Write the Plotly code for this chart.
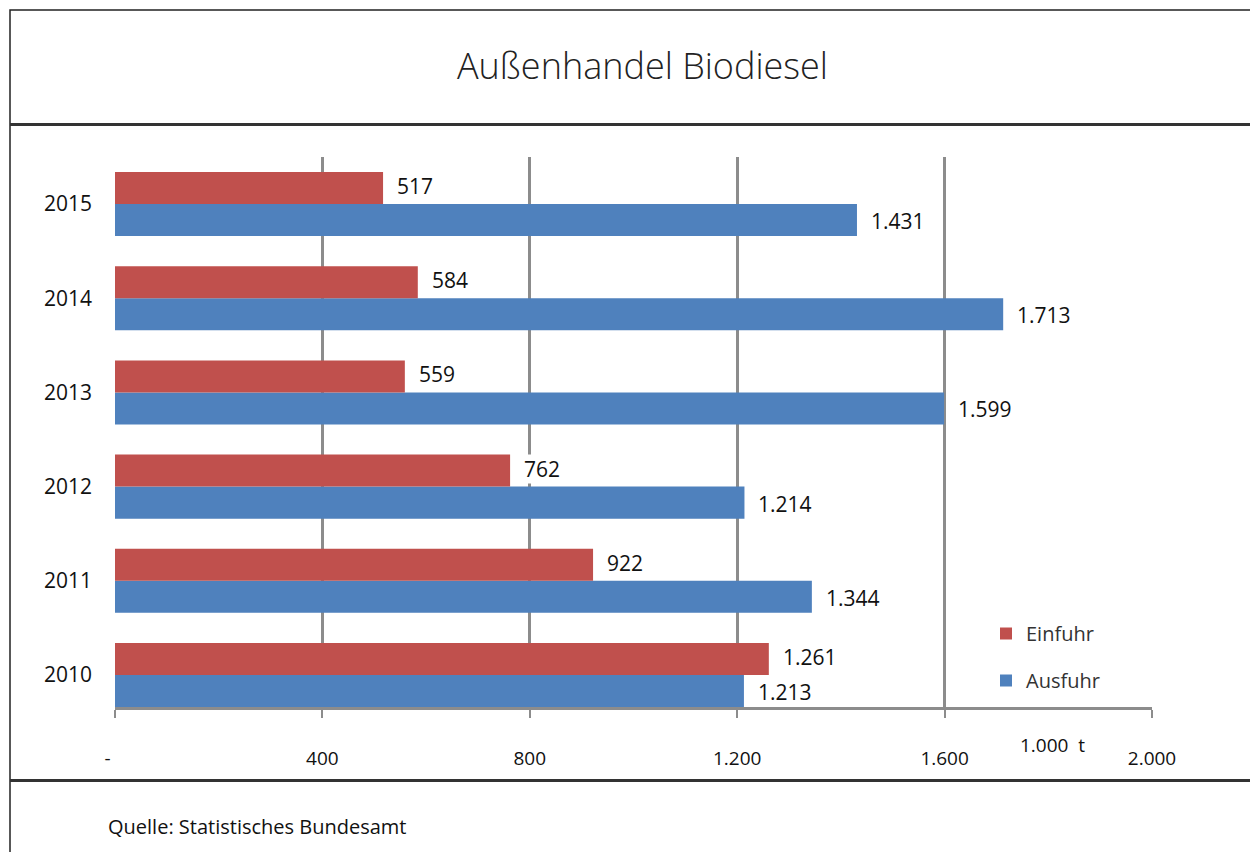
import plotly.graph_objects as go

years = ["2010", "2011", "2012", "2013", "2014", "2015"]
einfuhr = [1261, 922, 762, 559, 584, 517]
ausfuhr = [1213, 1344, 1214, 1599, 1713, 1431]
x_tickvals = [0, 400, 800, 1200, 1600, 2000]
x_ticktext = ["-   ", "400", "800", "1.200", "1.600", "2.000"]

RED = "#C0504D"
BLUE = "#4F81BD"
GRID = "#8C8C8C"
FONT = "Open Sans"

OFF = 8  # browser body margin
W, H = 1258 - OFF, 852 - OFF
L, R, T, B = 115 - OFF, 1152 - OFF, 157 - OFF, 707 - OFF


def de(v):
    return f"{v:,}".replace(",", ".")


fig = go.Figure()
fig.add_trace(go.Bar(name="Ausfuhr", y=years, x=ausfuhr, orientation="h", legendgroup="a",
                     legendrank=2, marker=dict(color=BLUE, line=dict(width=0))))
fig.add_trace(go.Bar(name="Einfuhr", y=years, x=einfuhr, orientation="h", legendgroup="e",
                     legendrank=1, marker=dict(color=RED, line=dict(width=0))))

annotations = []
for i, yr in enumerate(years):
    annotations.append(dict(x=einfuhr[i], y=i, xref="x", yref="y", yshift=18,
                            text=de(einfuhr[i]), showarrow=False, xanchor="left",
                            yanchor="middle", xshift=13, bgcolor="white", borderpad=0,
                            font=dict(family=FONT, size=21, color="#111")))
    annotations.append(dict(x=ausfuhr[i], y=i, xref="x", yref="y", yshift=-17,
                            text=de(ausfuhr[i]), showarrow=False, xanchor="left",
                            yanchor="middle", xshift=13, bgcolor="white", borderpad=0,
                            font=dict(family=FONT, size=21, color="#111")))


def px_x(p):
    return (p - OFF - L) / (R - L)


def px_y(p):
    return (B - (p - OFF)) / (B - T)


annotations.append(dict(text="Außenhandel Biodiesel", x=px_x(642), y=px_y(66),
                        xref="paper", yref="paper", showarrow=False,
                        xanchor="center", yanchor="middle",
                        font=dict(family=FONT, size=36, color="#222", weight=300)))
annotations.append(dict(text="1.000  t", x=px_x(1052), y=px_y(745),
                        xref="paper", yref="paper", showarrow=False,
                        xanchor="center", yanchor="middle",
                        font=dict(family=FONT, size=19, color="#111")))
annotations.append(dict(text="Quelle: Statistisches Bundesamt", x=px_x(106), y=px_y(826),
                        xref="paper", yref="paper", showarrow=False,
                        xanchor="left", yanchor="middle",
                        font=dict(family=FONT, size=20, color="#111")))

shapes = [
    dict(type="rect", xref="paper", yref="paper", x0=px_x(10), x1=px_x(1255),
         y0=px_y(870), y1=px_y(10), line=dict(color="#222", width=1.5)),
    dict(type="line", xref="paper", yref="paper", x0=px_x(10), x1=px_x(1255),
         y0=px_y(124.5), y1=px_y(124.5), line=dict(color="#333", width=3)),
    dict(type="line", xref="paper", yref="paper", x0=px_x(10), x1=px_x(1255),
         y0=px_y(780.5), y1=px_y(780.5), line=dict(color="#333", width=3)),
]

fig.update_layout(
    width=W, height=H,
    margin=dict(l=L, r=W - R, t=T, b=H - B, pad=0),
    paper_bgcolor="white", plot_bgcolor="white",
    barmode="group", bargap=0.32, bargroupgap=0,
    font=dict(family=FONT, size=20, color="#111"),
    showlegend=True,
    legend=dict(x=px_x(986), y=px_y(614), xanchor="left", yanchor="top",
                traceorder="grouped", font=dict(family=FONT, size=20, color="#333"),
                itemwidth=30, tracegroupgap=18, bgcolor="rgba(0,0,0,0)"),
    annotations=annotations,
    shapes=shapes,
    xaxis=dict(range=[0, 2000], tickvals=x_tickvals, ticktext=x_ticktext,
               showgrid=True, gridcolor=GRID, gridwidth=3, zeroline=False,
               showline=True, linecolor=GRID, linewidth=3,
               ticks="outside", ticklen=8, tickwidth=2, tickcolor=GRID,
               ticklabelstandoff=24, tickfont=dict(family=FONT, size=19, color="#111")),
    yaxis=dict(type="category", categoryorder="array", categoryarray=years,
               range=[-0.34, 5.5], showgrid=False, zeroline=False, showline=False,
               ticks="", ticklabelstandoff=22,
               tickfont=dict(family=FONT, size=21, color="#111")),
)

fig.write_html("out.html")
